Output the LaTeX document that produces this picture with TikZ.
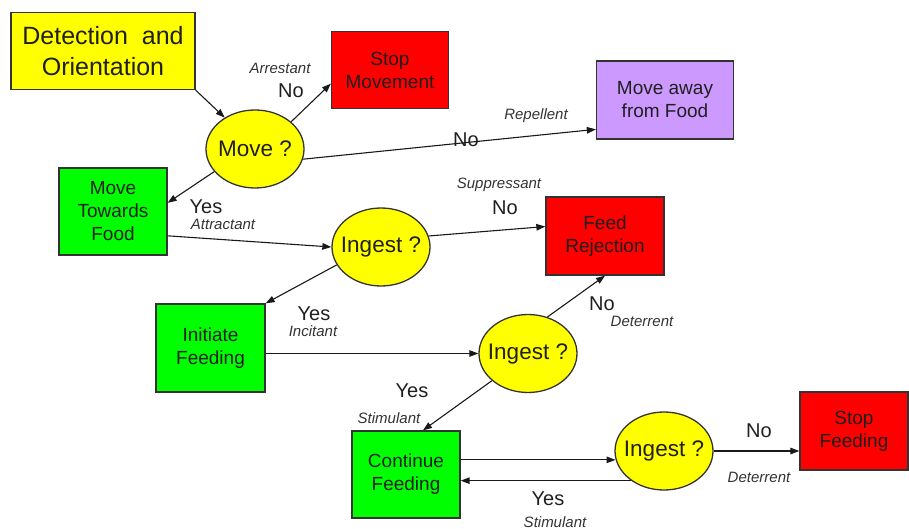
\documentclass[tikz,border=0pt]{standalone}
\usepackage{fontspec}
\setmainfont{Liberation Sans}
\usepackage{xcolor}
\usetikzlibrary{arrows.meta,calc,positioning,shapes.geometric}
\definecolor{cueyellow}{HTML}{FFFF00}
\definecolor{cuered}{HTML}{FF0000}
\definecolor{cuegreen}{HTML}{00FF00}
\definecolor{cuepurple}{HTML}{CC99FF}
\definecolor{edgegray}{HTML}{333333}

\begin{document}
\begin{tikzpicture}[x=1pt,y=-1pt,
    box/.style={draw=edgegray, line width=1.3pt, inner sep=0pt, align=center,
        text=black!88, font=\fontsize{19}{23}\selectfont},
    choice/.style={ellipse, draw=edgegray, line width=1.3pt, fill=cueyellow,
        minimum width=98pt, minimum height=78pt, inner xsep=-6pt, inner ysep=0pt,
        text=black!88, font=\fontsize{22.5}{26}\selectfont},
    ans/.style={inner sep=0pt, text=black!88, font=\fontsize{20}{24}\selectfont},
    why/.style={inner sep=0pt, text=black!80, font=\fontsize{15}{18}\selectfont\itshape},
    flow/.style={-{Triangle[length=9pt,width=6.5pt]}, line width=1.1pt, black!90}]
    \useasboundingbox (0,0) rectangle (909,529);

    % TOP: Detection and first choice
    \node[box, fill=cueyellow, minimum width=184pt, minimum height=77pt,
        font=\fontsize{25}{31}\selectfont] (detect) at (103,51) {Detection \ and\\Orientation};
    \node[choice] (move) at (255,149) {Move ?};
    \node[box, fill=cuered, minimum width=117pt, minimum height=77pt] (stopmove) at (390,70) {Stop\\Movement};
    \node[box, fill=cuepurple, minimum width=137pt, minimum height=78pt] (away) at (665,100) {Move away\\from Food};
    \node[box, fill=cuegreen, minimum width=108pt, minimum height=87pt] (towards) at (113,211.5) {Move\\Towards\\Food};

    \draw[flow] (detect.south east) -- (move.134);
    \draw[flow] (move.37) -- (stopmove.193);
    \draw[flow] (move.-12) -- (away.203);
    \draw[flow] (move.209) -- (towards.9);
    \node[why] (arrest) at (280,68) {Arrestant};
    \node[ans] (noarrest) at (291,91) {No};
    \node[why] (repel) at (536,116) {Repellent};
    \node[ans] (norepel) at (466,140) {No};
    \node[ans] (yesattract) at (206,206.5) {Yes};
    \node[why] (attract) at (223,224.5) {Attractant};

    % MIDDLE: First and second ingest
    \node[choice] (ingestA) at (381,247) {Ingest ?};
    \node[box, fill=cuered, minimum width=118pt, minimum height=78pt] (reject) at (605,236) {Feed\\Rejection};
    \node[box, fill=cuegreen, minimum width=109pt, minimum height=88pt] (initiate) at (210.5,348) {Initiate\\Feeding};
    \node[choice] (ingestB) at (528,353.5) {Ingest ?};

    \draw[flow] (towards.-24) -- (ingestA.west);
    \draw[flow] (ingestA.13) -- (reject.171);
    \draw[flow] (ingestA.202) -- (initiate.north east);
    \draw[flow] (initiate.east |- ingestB.west) -- (ingestB.west);
    \draw[flow] (ingestB.62) -- (reject.south);
    \node[why] (suppress) at (499,185) {Suppressant};
    \node[ans] (nosuppress) at (505,208) {No};
    \node[ans] (yesincite) at (314,313.5) {Yes};
    \node[why] (incite) at (313,331.5) {Incitant};
    \node[ans] (nodeterA) at (602,304) {No};
    \node[why] (deterA) at (642,321.5) {Deterrent};

    % BOTTOM: Continue feeding loop
    \node[box, fill=cuegreen, minimum width=108pt, minimum height=87pt] (continue) at (406,474.5) {Continue\\Feeding};
    \node[choice] (ingestC) at (664,451) {Ingest ?};
    \node[box, fill=cuered, minimum width=108pt, minimum height=78pt] (stopfeed) at (854,431) {Stop\\Feeding};

    \draw[flow] (ingestB.217) -- (continue.69);
    \draw[flow] (continue.15) -- (continue.15 -| ingestC.190);
    \draw[flow] (ingestC.222) -- (ingestC.222 -| continue.east);
    \draw[flow] (ingestC.east) -- (ingestC.east -| stopfeed.west);
    \node[ans] (yesstimA) at (412,391) {Yes};
    \node[why] (stimA) at (389,418.5) {Stimulant};
    \node[ans] (yesstimB) at (548,498.5) {Yes};
    \node[why] (stimB) at (555,522) {Stimulant};
    \node[ans] (nodeterB) at (759,431) {No};
    \node[why] (deterB) at (759,477) {Deterrent};
\end{tikzpicture}
\end{document}
